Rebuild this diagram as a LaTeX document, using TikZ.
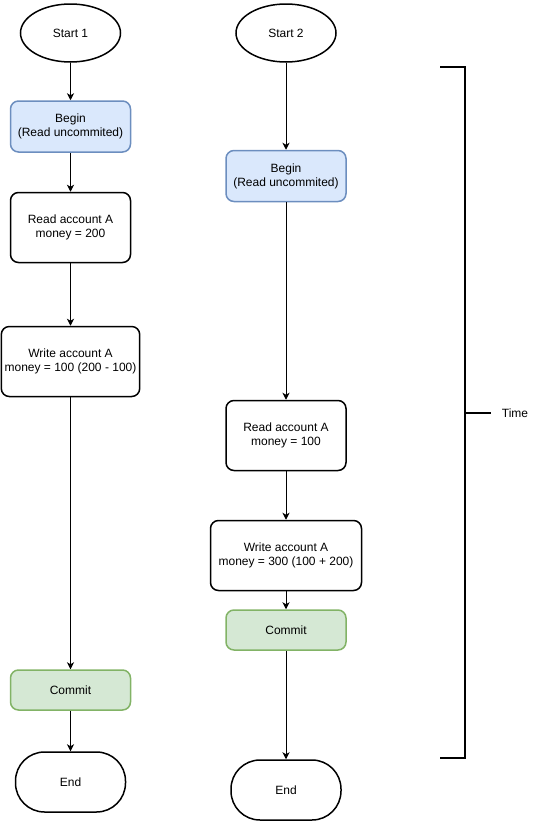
\documentclass[tikz,border=0pt]{standalone}
\usepackage{fontspec}
\setmainfont{Liberation Sans}
\usepackage{tikz}
\usetikzlibrary{arrows,arrows.meta,shapes,positioning}
\usepackage{xcolor}
\definecolor{dtblue}{RGB}{218,232,252}
\definecolor{dtbluedraw}{RGB}{108,142,191}
\definecolor{dtgreen}{RGB}{213,232,212}
\definecolor{dtgreendraw}{RGB}{130,179,102}
\tikzstyle{stepbox} = [rectangle, rounded corners=8pt, minimum width=120pt, minimum height=70pt, align=center, draw=black, fill=white, line width=1.5pt, font=\fontsize{12}{14}\selectfont]
\tikzstyle{beginbox} = [stepbox, minimum height=51pt, draw=dtbluedraw, fill=dtblue]
\tikzstyle{commitbox} = [stepbox, minimum height=40pt, draw=dtgreendraw, fill=dtgreen]
\tikzstyle{startnode} = [ellipse, minimum width=100pt, minimum height=58pt, draw=black, line width=1.5pt, font=\fontsize{12}{14}\selectfont]
\tikzstyle{endnode} = [rectangle, rounded corners=29pt, minimum width=110pt, minimum height=60pt, draw=black, line width=1.5pt, font=\fontsize{12}{14}\selectfont]
\tikzstyle{arrow} = [line width=1pt,->,>={Stealth[length=7pt,width=7pt,inset=2pt]}]

\begin{document}
\begin{tikzpicture}[x=1pt,y=-1pt]
\useasboundingbox (0,0) rectangle (537,822);

% Transaction 1
\node[startnode] (start1) at (70.5,33) {Start 1};
\node[beginbox] (begin1) at (70.5,126.5) {Begin\\(Read uncommited)};
\node[stepbox] (read1) at (70.5,227.5) {Read account A\\money = 200};
\node[stepbox, minimum width=138pt] (write1) at (70.5,361.5) {Write account A\\money = 100 (200 - 100)};
\node[commitbox] (commit1) at (70.5,690) {Commit};
\node[endnode] (end1) at (70.5,782) {End};

\draw[arrow] (start1) -- (begin1);
\draw[arrow] (begin1) -- (read1);
\draw[arrow] (read1) -- (write1);
\draw[arrow] (write1) -- (commit1);
\draw[arrow] (commit1) -- (end1);

% Transaction 2
\node[startnode] (start2) at (286,33) {Start 2};
\node[beginbox] (begin2) at (286,176) {Begin\\(Read uncommited)};
\node[stepbox] (read2) at (286,435.5) {Read account A\\money = 100};
\node[stepbox, minimum width=151pt] (write2) at (286,555.5) {Write account A\\money = 300 (100 + 200)};
\node[commitbox] (commit2) at (286,630) {Commit};
\node[endnode] (end2) at (286,790) {End};

\draw[arrow] (start2) -- (begin2);
\draw[arrow] (begin2) -- (read2);
\draw[arrow] (read2) -- (write2);
\draw[arrow] (write2) -- (commit2);
\draw[arrow] (commit2) -- (end2);

% Time bracket
\coordinate (ttop) at (465,67);
\coordinate (tbot) at (465,758);
\coordinate (tmid) at (465,413);
\node[font=\fontsize{12}{14}\selectfont] (time) at (515,413) {Time};
\draw[line width=1.5pt] ([xshift=-25pt]ttop) -- (ttop) -- (tbot) -- ([xshift=-25pt]tbot);
\draw[line width=1.5pt, shorten >=7pt] (tmid) -- (time.west);
\end{tikzpicture}
\end{document}
